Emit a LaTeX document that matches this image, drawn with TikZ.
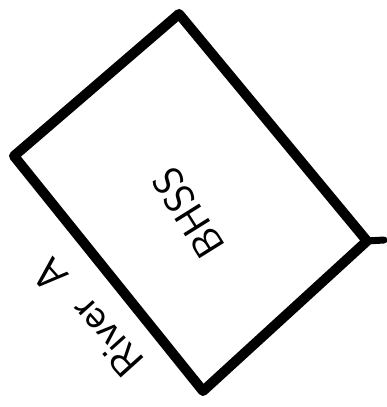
\documentclass[tikz,border=0pt]{standalone}
\begin{document}
\begin{tikzpicture}[x=1pt,y=-1pt,
  wall/.style={line width=10pt,line join=round,line cap=round},
  lbl/.style={font=\sffamily\fontsize{42}{42}\selectfont,inner sep=0pt}]
\useasboundingbox (0,0) rectangle (387,407);
\coordinate (t) at (179,14);
\coordinate (l) at (14,156);
\coordinate (b) at (203,391);
\coordinate (r) at (367,241);
\coordinate (rs) at (384,240);
\draw[wall] (t) -- (l) -- (b) -- (r) -- cycle;
\draw[wall,line width=7pt] (r) -- (rs);
\node[lbl,rotate=122] (bhss) at (188,213) {BHSS};
\node[lbl,rotate=132,font=\sffamily\fontsize{44}{44}\selectfont] (river) at (88,318) {River\hspace{26pt}A};
\end{tikzpicture}
\end{document}
